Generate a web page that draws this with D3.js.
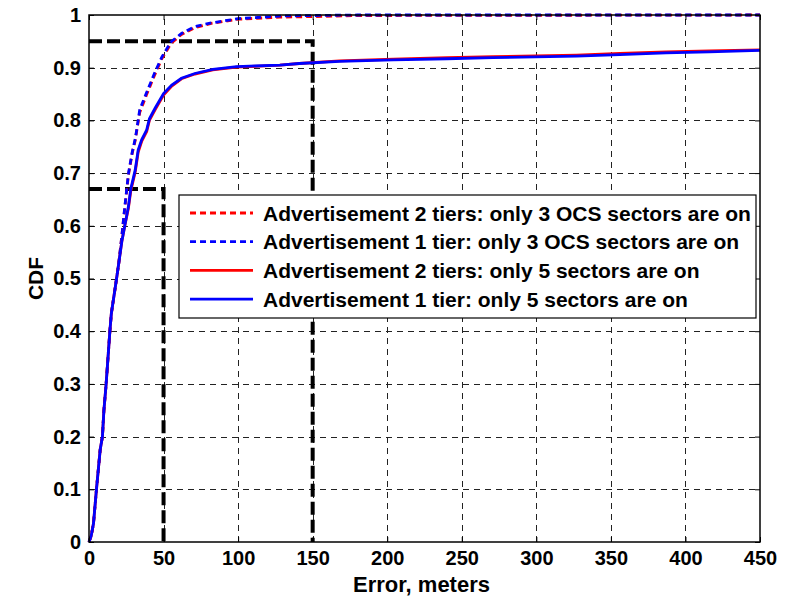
<!DOCTYPE html>
<html>
<head>
  <meta charset="utf-8">
  <title>CDF of error</title>
  <script src="https://d3js.org/d3.v7.min.js"></script>
  <style>
    body { margin: 0; background: #fff; }
    text { font-family: "Liberation Sans", Arial, sans-serif; font-weight: bold; }
  </style>
</head>
<body>
  <script>
    // values
    var xTicks = [0, 50, 100, 150, 200, 250, 300, 350, 400, 450];
    var yTicks = [0, 0.1, 0.2, 0.3, 0.4, 0.5, 0.6, 0.7, 0.8, 0.9, 1];

    var errDashed = [0, 1.5, 3, 5, 7.5, 9, 10, 11.5, 14, 15, 18.5, 20, 22, 24, 26.5, 29, 31, 32, 34, 38.5,
      44, 49, 55, 62, 71, 82, 100, 128, 150, 180, 450];
    var cdfAdv2Ocs = [0, 0.012, 0.035, 0.1, 0.175, 0.2, 0.25, 0.3, 0.4, 0.434, 0.5, 0.53, 0.58, 0.634, 0.697, 0.738, 0.762, 0.78, 0.815, 0.848,
      0.886, 0.918, 0.946, 0.963, 0.976, 0.984, 0.992, 0.996, 0.997, 0.999, 1];
    var cdfAdv1Ocs = [0, 0.012, 0.035, 0.1, 0.175, 0.2, 0.25, 0.3, 0.4, 0.434, 0.5, 0.53, 0.58, 0.636, 0.70, 0.74, 0.765, 0.782, 0.82, 0.852,
      0.89, 0.921, 0.949, 0.965, 0.978, 0.985, 0.993, 0.998, 0.999, 1, 1];

    var errSolid = [0, 1.5, 3, 5, 7.5, 9, 10, 11.5, 14, 15, 18.5, 20, 22, 24, 26.4, 28, 31, 33, 35.3, 38.7,
      40.5, 44.3, 50, 55.5, 62, 71, 83, 99, 128, 141, 168, 204, 240, 271, 327, 356, 387, 416, 450];
    var cdfAdv2Five = [0, 0.012, 0.035, 0.1, 0.175, 0.2, 0.25, 0.3, 0.4, 0.434, 0.5, 0.53, 0.57, 0.6, 0.633, 0.666, 0.702, 0.74, 0.76, 0.779,
      0.8, 0.82, 0.848, 0.865, 0.879, 0.888, 0.896, 0.901, 0.905, 0.908, 0.913, 0.916, 0.919, 0.921, 0.924, 0.927, 0.93, 0.932, 0.934];
    var cdfAdv1Five = [0, 0.012, 0.035, 0.1, 0.175, 0.2, 0.25, 0.3, 0.4, 0.434, 0.5, 0.53, 0.57, 0.6, 0.636, 0.67, 0.706, 0.744, 0.763, 0.782,
      0.803, 0.823, 0.851, 0.867, 0.88, 0.889, 0.897, 0.902, 0.905, 0.908, 0.912, 0.915, 0.917, 0.919, 0.922, 0.925, 0.928, 0.93, 0.933];

    var refErr = [50, 150];
    var refCdf = [0.67, 0.95];

    var series = [
      { name: 'Advertisement 2 tiers: only 3 OCS sectors are on', x: errDashed, y: cdfAdv2Ocs, color: '#ff0000', dash: '6,4' },
      { name: 'Advertisement 1 tier: only 3 OCS sectors are on', x: errDashed, y: cdfAdv1Ocs, color: '#0000ff', dash: '6,4' },
      { name: 'Advertisement 2 tiers: only 5 sectors are on', x: errSolid, y: cdfAdv2Five, color: '#ff0000', dash: null },
      { name: 'Advertisement 1 tier: only 5 sectors are on', x: errSolid, y: cdfAdv1Five, color: '#0000ff', dash: null }
    ];

    var W = 796, H = 600;
    var m = { left: 89, right: 36, top: 15, bottom: 58 };

    var svg = d3.select('body').append('svg')
      .attr('width', W)
      .attr('height', H);

    var x = d3.scaleLinear().domain([0, 450]).range([m.left, W - m.right]);
    var y = d3.scaleLinear().domain([0, 1]).range([H - m.bottom, m.top]);

    // grid
    var grid = svg.append('g').attr('stroke', '#222').attr('stroke-width', 1).attr('stroke-dasharray', '6,5');
    grid.selectAll('.gx').data(xTicks.slice(1, -1)).enter().append('line')
      .attr('x1', function(d) { return Math.round(x(d)) + 0.5; })
      .attr('x2', function(d) { return Math.round(x(d)) + 0.5; })
      .attr('y1', y(0)).attr('y2', y(1));
    grid.selectAll('.gy').data(yTicks.slice(1, -1)).enter().append('line')
      .attr('y1', function(d) { return Math.round(y(d)) + 0.5; })
      .attr('y2', function(d) { return Math.round(y(d)) + 0.5; })
      .attr('x1', x(0)).attr('x2', x(450));

    // reference lines
    var ref = svg.append('g').attr('stroke', '#000').attr('stroke-width', 4)
      .attr('stroke-dasharray', '13,5').attr('fill', 'none');
    refErr.forEach(function(e, i) {
      ref.append('path')
        .attr('d', 'M' + x(0) + ',' + y(refCdf[i]) + 'H' + x(e) + 'V' + y(0));
    });

    // curves
    svg.append('clipPath').attr('id', 'clip').append('rect')
      .attr('x', x(0) - 3).attr('y', y(1) - 3)
      .attr('width', x(450) - x(0) + 6).attr('height', y(0) - y(1) + 6);

    var line = d3.line()
      .x(function(d) { return x(d[0]); })
      .y(function(d) { return y(d[1]); });

    svg.append('g').attr('clip-path', 'url(#clip)')
      .selectAll('path').data(series).enter().append('path')
      .attr('d', function(s) { return line(d3.zip(s.x, s.y)); })
      .attr('fill', 'none')
      .attr('stroke', function(s) { return s.color; })
      .attr('stroke-width', 2.8)
      .attr('stroke-dasharray', function(s) { return s.dash; });

    // axes box with inward ticks
    svg.append('rect')
      .attr('x', x(0)).attr('y', y(1))
      .attr('width', x(450) - x(0)).attr('height', y(0) - y(1))
      .attr('fill', 'none').attr('stroke', '#000').attr('stroke-width', 1.5);

    svg.append('g').attr('transform', 'translate(0,' + y(0) + ')')
      .call(d3.axisBottom(x).tickValues(xTicks).tickSizeInner(-5).tickSizeOuter(0).tickPadding(9));
    svg.append('g').attr('transform', 'translate(' + x(0) + ',0)')
      .call(d3.axisLeft(y).tickValues(yTicks).tickFormat(d3.format('')).tickSizeInner(-5).tickSizeOuter(0).tickPadding(8));
    svg.append('g').attr('transform', 'translate(0,' + y(1) + ')')
      .call(d3.axisTop(x).tickValues(xTicks).tickSizeInner(-5).tickSizeOuter(0).tickFormat(''));
    svg.append('g').attr('transform', 'translate(' + x(450) + ',0)')
      .call(d3.axisRight(y).tickValues(yTicks).tickSizeInner(-5).tickSizeOuter(0).tickFormat(''));

    svg.selectAll('.domain').remove();
    svg.selectAll('.tick text')
      .attr('font-family', '"Liberation Sans", Arial, sans-serif')
      .attr('font-weight', 'bold')
      .attr('font-size', 20)
      .attr('fill', '#000');

    svg.append('text')
      .attr('x', (x(0) + x(450)) / 2 - 3).attr('y', 592)
      .attr('text-anchor', 'middle').attr('font-size', 22)
      .text('Error, meters');

    svg.append('text')
      .attr('transform', 'translate(43,' + (y(0) + y(1)) / 2 + ') rotate(-90)')
      .attr('text-anchor', 'middle').attr('font-size', 21)
      .text('CDF');

    // legend
    var lg = svg.append('g').attr('transform', 'translate(179,195)');
    lg.append('rect')
      .attr('width', 577).attr('height', 123)
      .attr('fill', '#fff').attr('stroke', '#000').attr('stroke-width', 1.2);
    var rows = lg.selectAll('.row').data(series).enter().append('g')
      .attr('transform', function(d, i) { return 'translate(0,' + (18 + i * 28.7) + ')'; });
    rows.append('line')
      .attr('x1', 11).attr('x2', 74)
      .attr('stroke', function(s) { return s.color; })
      .attr('stroke-width', 2.8)
      .attr('stroke-dasharray', function(s) { return s.dash; });
    rows.append('text')
      .attr('x', 84).attr('dy', '0.36em')
      .attr('font-size', 21)
      .text(function(s) { return s.name; });
  </script>
</body>
</html>
